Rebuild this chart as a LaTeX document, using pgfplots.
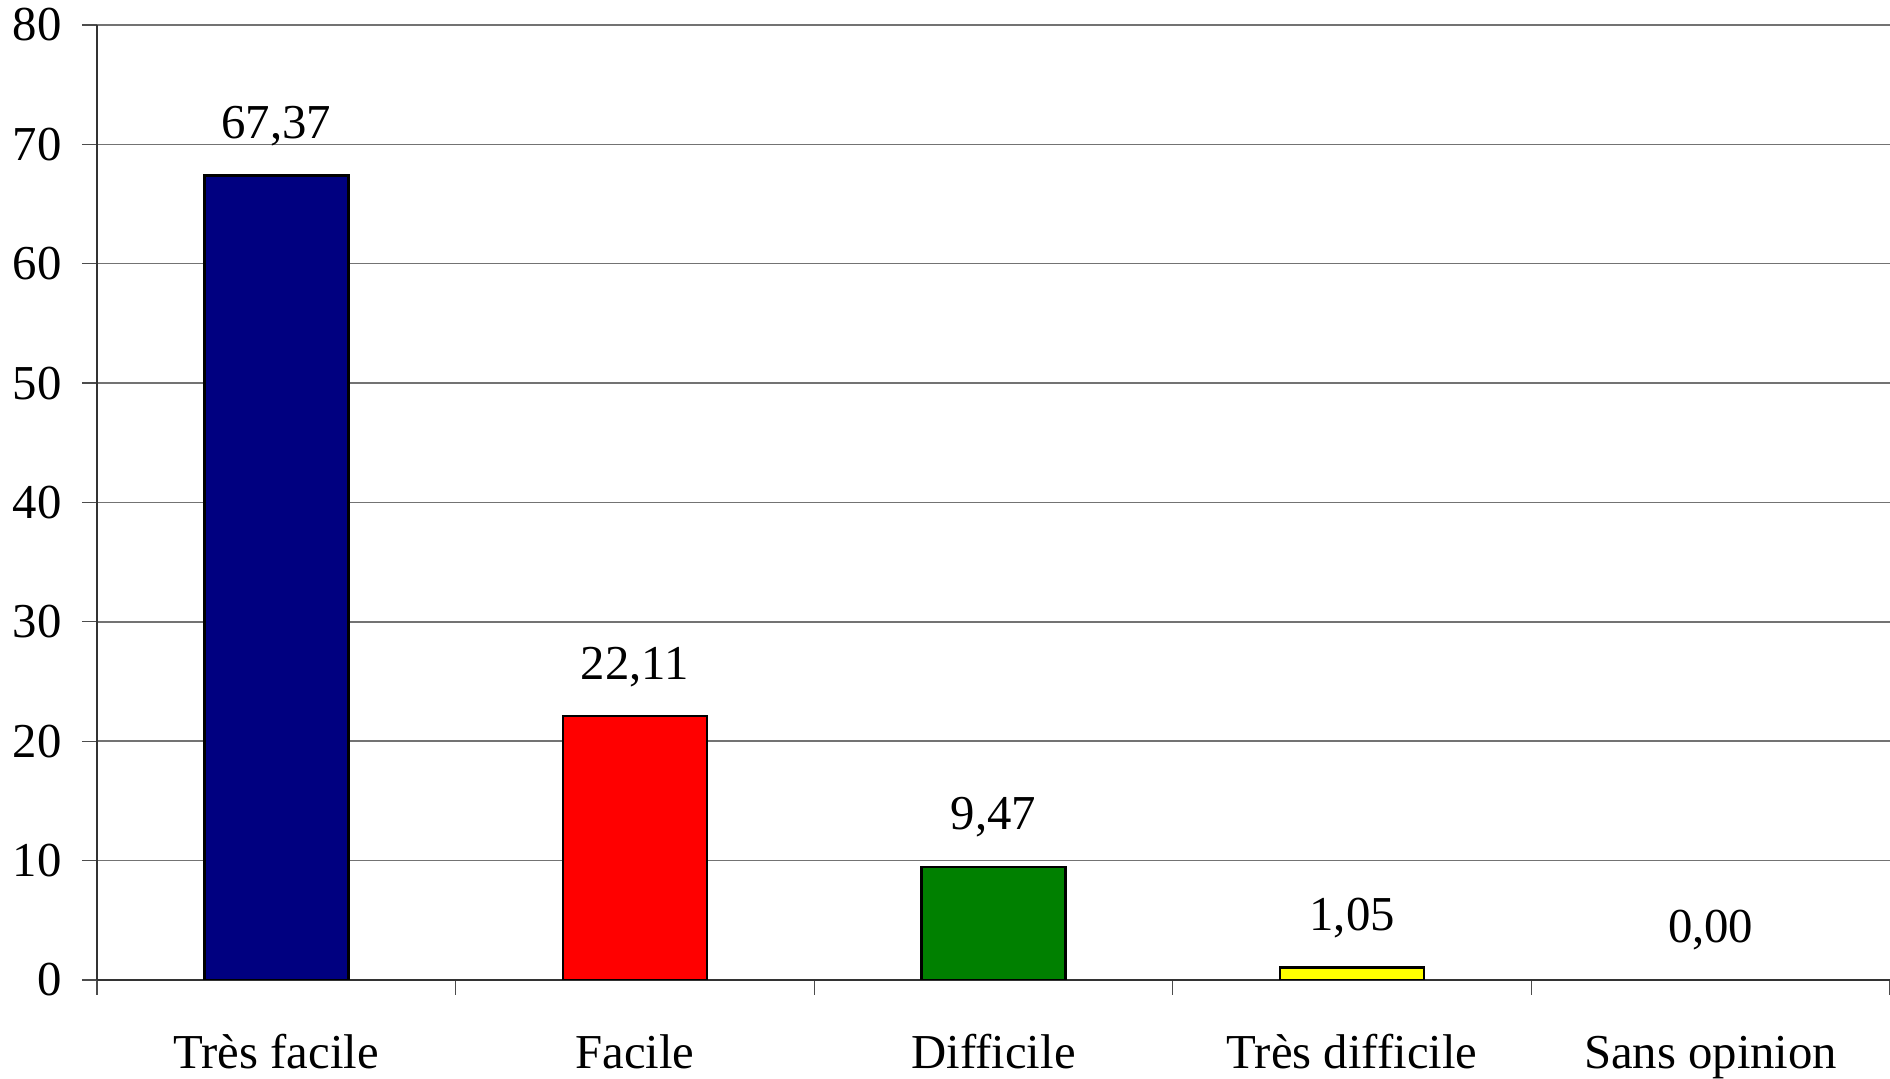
\documentclass[border=0pt]{standalone}
\usepackage{pgfplots}
\pgfplotsset{compat=1.18}
\usepackage{fontspec}
\setmainfont{Liberation Serif}
\definecolor{cnavy}{RGB}{0,0,128}
\definecolor{cred}{RGB}{255,0,0}
\definecolor{cgreen}{RGB}{0,128,0}
\definecolor{cyellow}{RGB}{255,255,0}
\begin{document}
\fontsize{19.5}{23}\selectfont
\begin{tikzpicture}
\begin{axis}[
  name=ax,
  scale only axis,
  width=717.2pt, height=382pt,
  xmin=-0.5, xmax=4.5, ymin=0, ymax=80,
  ytick={0,10,...,80},
  xtick={0,1,2,3,4},
  xticklabels={Très facile, Facile, Difficile, Très difficile, Sans opinion},
  minor xtick={-0.5,0.5,1.5,2.5,3.5,4.5},
  axis lines*=left,
  tick align=outside,
  tick pos=left,
  major tick length=6pt,
  minor tick length=6pt,
  xtick style={draw=none},
  minor x tick style={draw=black!70, line width=0.5pt},
  ytick style={draw=black!70, line width=0.5pt},
  ymajorgrids,
  grid style={draw=black!55, line width=0.6pt},
  axis line style={draw=black!80, line width=0.8pt},
  /pgf/number format/assume math mode=true,
  ticklabel style={font=\fontsize{19.5}{23}\selectfont},
  xticklabel style={anchor=base, yshift=-29.6pt},
  yticklabel style={anchor=east, xshift=-1.4pt},
  ybar, bar width=57.6pt, bar shift=0pt,
  nodes near coords={\pgfmathprintnumber[fixed,fixed zerofill,precision=2,use comma,assume math mode=true]{\pgfplotspointmeta}},
  every node near coord/.append style={anchor=base, yshift=14.8pt, font=\fontsize{19.5}{23}\selectfont, text=black},
]
\addplot[fill=cnavy, draw=black, line width=1.1pt] coordinates {(0,67.37)};
\addplot[fill=cred, draw=black, line width=1.1pt] coordinates {(1,22.11)};
\addplot[fill=cgreen, draw=black, line width=1.1pt] coordinates {(2,9.47)};
\addplot[fill=cyellow, draw=black, line width=1.1pt] coordinates {(3,1.05)};
\addplot[fill=none, draw=none] coordinates {(4,0)};
\end{axis}
\pgfresetboundingbox
\path ([shift={(-38.8pt,-39.6pt)}]ax.south west) rectangle ([shift={(0pt,10pt)}]ax.north east);
\end{tikzpicture}
\end{document}
